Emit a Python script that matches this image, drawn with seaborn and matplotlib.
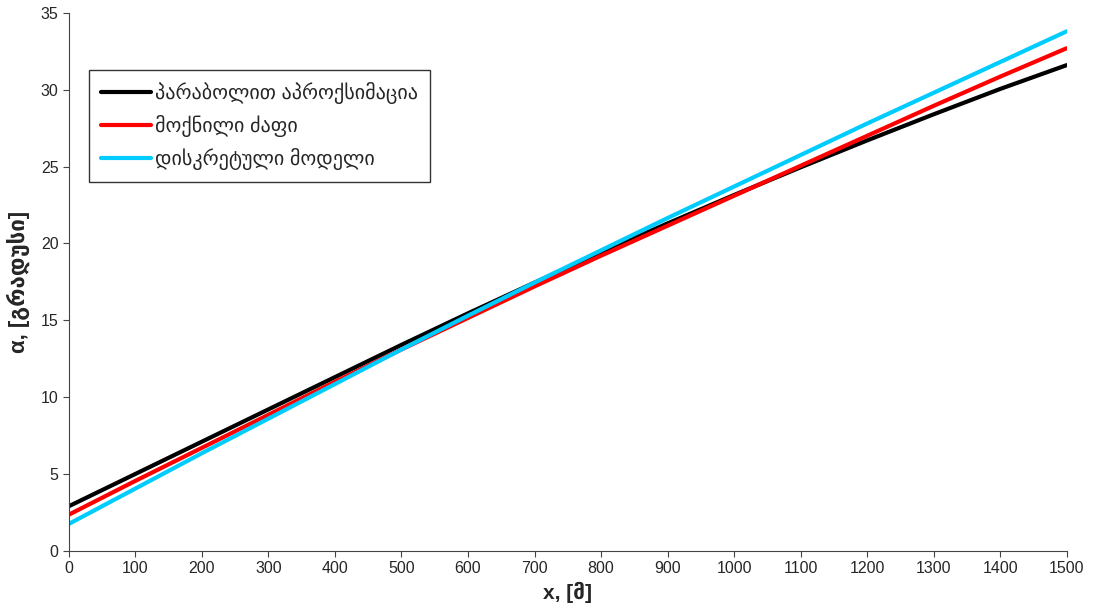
import pandas as pd
import seaborn as sns
import matplotlib.pyplot as plt

x = [0, 100, 200, 300, 400, 500, 600, 700, 800, 900, 1000, 1100, 1200, 1300, 1400, 1500]
parabola = [2.9, 5.0, 7.1, 9.2, 11.3, 13.4, 15.45, 17.45, 19.4, 21.3, 23.15, 24.95, 26.7, 28.4, 30.05, 31.6]
flex_rope = [2.35, 4.55, 6.7, 8.85, 11.0, 13.1, 15.15, 17.2, 19.2, 21.15, 23.1, 25.05, 27.0, 28.95, 30.85, 32.7]
discrete = [1.75, 4.05, 6.35, 8.6, 10.85, 13.1, 15.3, 17.45, 19.55, 21.65, 23.7, 25.75, 27.8, 29.8, 31.8, 33.8]

names = ["პარაბოლით აპროქსიმაცია", "მოქნილი ძაფი", "დისკრეტული მოდელი"]
colors = ["#000000", "#ff0000", "#00ccff"]

df = pd.concat([
    pd.DataFrame({"x": x, "a": vals, "series": name})
    for name, vals in zip(names, [parabola, flex_rope, discrete])
])

sns.set_style("ticks")
plt.rcParams["font.family"] = ["Liberation Sans", "DejaVu Sans"]

fig, ax = plt.subplots(figsize=(10.94, 6.14), dpi=100)
fig.subplots_adjust(left=0.063, right=0.975, top=0.979, bottom=0.103)

sns.lineplot(data=df, x="x", y="a", hue="series", hue_order=names,
             palette=dict(zip(names, colors)), linewidth=3, ax=ax)

ax.set_xlim(0, 1500)
ax.set_ylim(0, 35)
ax.set_xticks(range(0, 1501, 100))
ax.set_yticks(range(0, 36, 5))
ax.tick_params(labelsize=11.5, length=4, color="#444444")
for s in ["left", "bottom"]:
    ax.spines[s].set_color("#444444")
sns.despine(ax=ax)

ax.set_xlabel("x, [მ]", fontsize=15, fontweight="bold", labelpad=4)
ax.set_ylabel("α, [გრადუსი]", fontsize=16, fontweight="bold", labelpad=8)

leg = ax.legend(loc="upper left", bbox_to_anchor=(0.02, 0.894), fontsize=14.5,
                frameon=True, fancybox=False, edgecolor="black",
                handlelength=2.5, borderpad=0.6, labelspacing=0.55,
                handletextpad=0.2, borderaxespad=0)
leg.get_frame().set_linewidth(1)

fig.savefig("out.png", dpi=100)
